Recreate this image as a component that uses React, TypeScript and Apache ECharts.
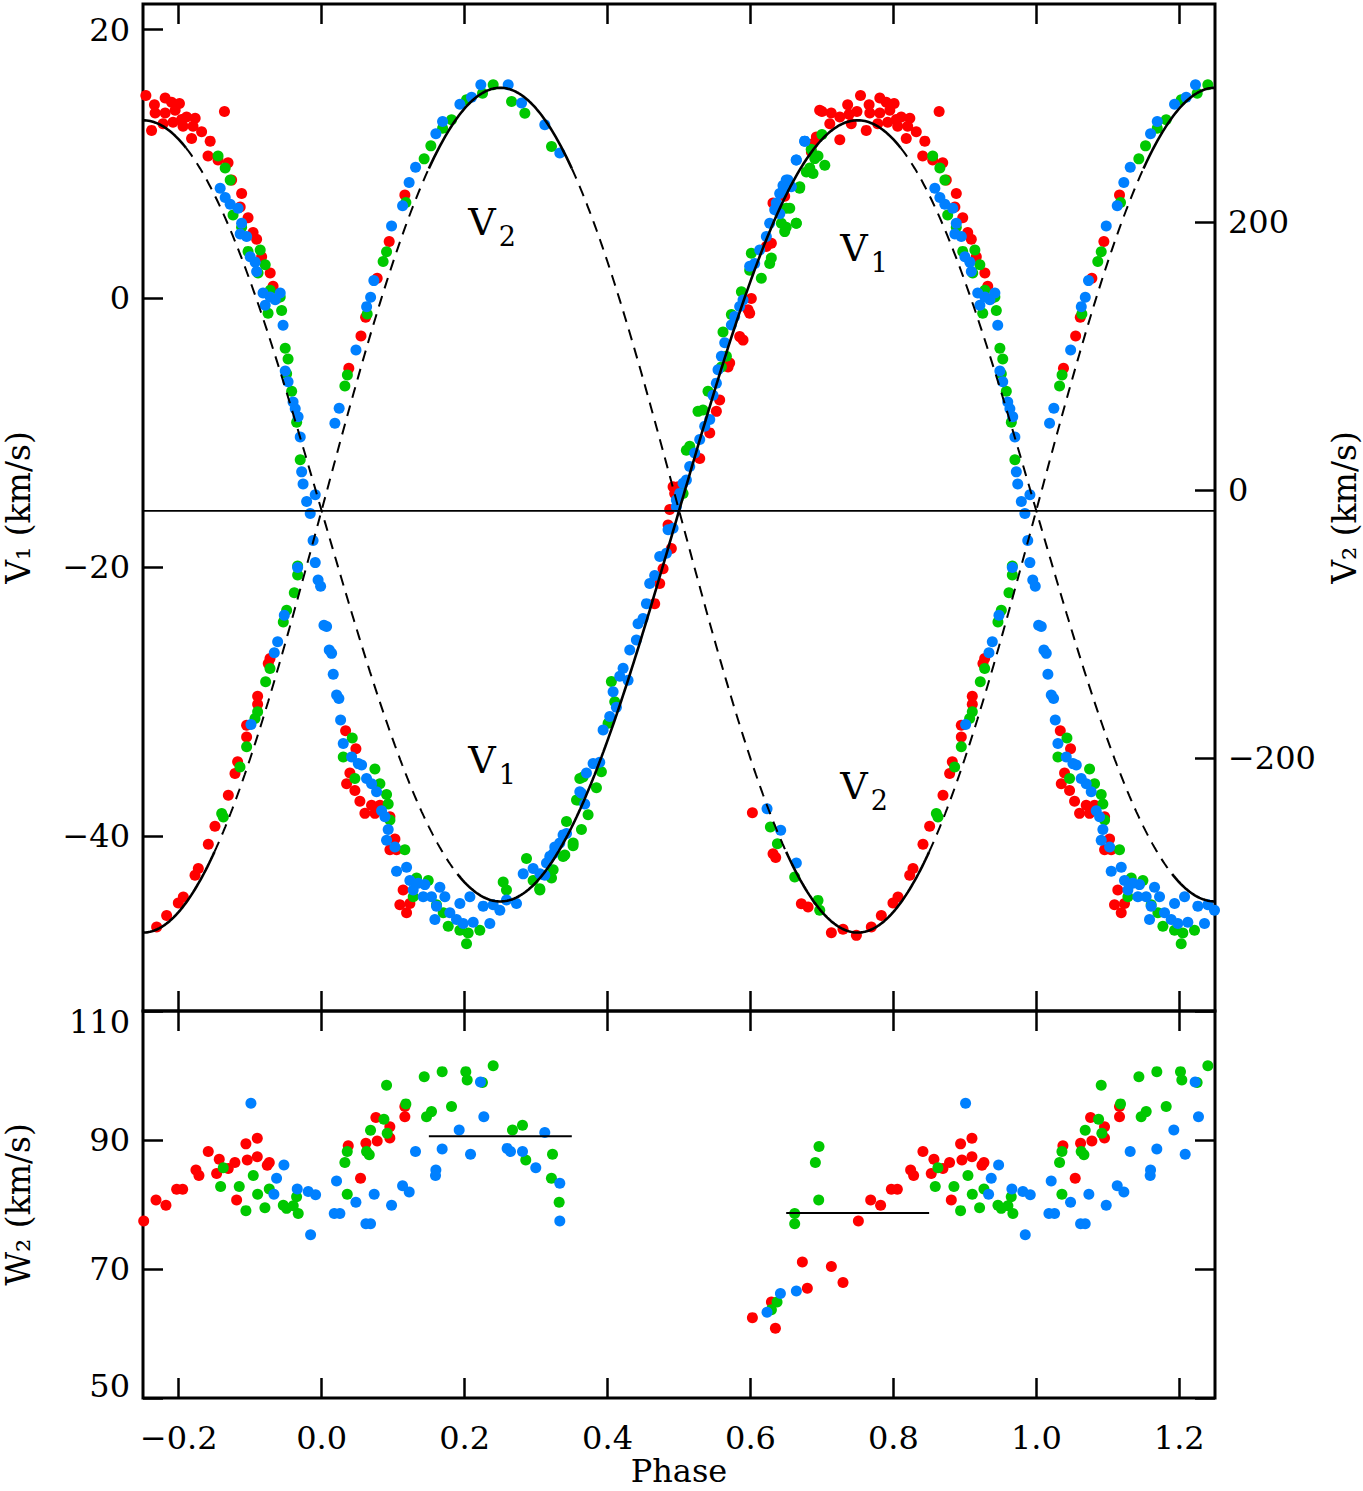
import React, { useEffect, useRef } from 'react';
import * as echarts from 'echarts';

// ---------- axis ticks ----------
const phaseTicks = [-0.2, 0, 0.2, 0.4, 0.6, 0.8, 1.0, 1.2];
const v1Ticks = [-40, -20, 0, 20];
const v2Ticks = [-200, 0, 200];
const w2Ticks = [50, 70, 90, 110];

// ---------- orbital fit parameters ----------
const V1_GAMMA = -15.8;
const V1_K = 29.05;
const V2_GAMMA = -15;
const V2_K = 315;
// phase ranges where the fit curves are drawn solid (others dashed)
const v1Solid = [[-0.25, -0.19], [0.19, 0.81], [1.19, 1.25]];
const v1Dashed = [[-0.19, 0.19], [0.81, 1.19]];
const v2Solid = [[-0.25, -0.15], [0.15, 0.35], [0.65, 0.85], [1.15, 1.25]];
const v2Dashed = [[-0.15, 0.15], [0.35, 0.65], [0.85, 1.15]];
// mean W2 levels
const w2Means = [
  { from: 0.15, to: 0.35, value: 90.6 },
  { from: 0.65, to: 0.85, value: 78.7 },
];

// ---------- V1 (km/s) vs phase ----------
const v1Red = [
  [0.700, 13.9], [0.713, 13.8], [0.725, 13.5], [0.736, 14.4], [0.738, 13.7], [0.749, 13.9], [0.754, 15.1],
  [0.766, 14.4], [0.767, 13.8], [0.781, 14.9], [0.790, 14.6], [0.801, 14.5], [0.795, 14.0], [0.781, 13.8],
  [0.778, 13.0], [0.792, 13.1], [0.804, 13.3], [0.811, 13.5], [0.823, 13.4], [0.820, 12.8], [0.806, 12.8],
  [0.832, 12.4], [0.844, 11.7], [0.818, 11.9], [0.762, 12.5], [0.741, 13.0], [0.725, 11.8], [0.864, 13.9],
  [0.711, 13.0], [0.687, 11.5],
  [0.841, 10.6], [0.855, 10.3], [0.869, 10.1], [0.874, 8.8], [0.888, 7.8], [0.886, 6.8], [0.897, 6.0],
  [0.904, 4.9], [0.909, 4.4], [0.916, 3.1], [0.928, 1.9], [0.932, 0.9], [0.937, 0.0],
  [0.0335, -32.15], [0.0479, -33.5], [0.0395, -35.3], [0.0349, -36.1], [0.0465, -36.6], [0.0535, -37.4],
  [0.0605, -38.3], [0.0698, -37.7], [0.0745, -38.3], [0.0815, -37.7], [0.0955, -38.55], [0.1025, -40.2],
  [0.0955, -41.0], [0.1048, -41.0], [0.114, -44.0], [0.1094, -45.1], [0.1188, -45.7], [0.1234, -45.0],
  [0.466, -22.7], [0.473, -21.2], [0.4777, -20.1], [0.4893, -18.6], [0.4847, -16.85], [0.494, -14.5],
  [0.4987, -14.0], [0.487, -15.7], [0.4917, -14.0], [0.529, -11.9], [0.543, -10.0], [0.5523, -8.4],
  [0.5569, -7.55], [0.5686, -5.1], [0.5709, -4.8], [0.5849, -2.84], [0.5896, -3.1], [0.5966, -0.85],
  [0.6012, 0.0], [0.5989, -1.1], [0.6222, 3.86], [0.6292, 4.1], [0.6315, 7.1], [0.6479, 7.6],
  [0.6852, 10.9], [0.6922, 12.0], [0.6968, 14.0],
];
const v1Green = [
  [0.700, 12.2], [0.685, 11.1], [0.690, 10.4], [0.704, 9.9], [0.683, 9.7], [0.669, 8.3], [0.655, 6.7],
  [0.650, 5.3], [0.664, 5.6], [0.855, 10.6], [0.865, 9.7], [0.872, 8.8], [0.876, 6.2], [0.888, 5.3],
  [0.897, 3.5], [0.914, 3.6], [0.921, 2.5], [0.911, 1.9], [0.928, 0.6], [0.942, 0.1], [0.925, -1.1],
  [0.944, -0.9], [0.949, -3.7], [0.953, -4.5], [0.951, -5.6], [0.958, -6.9], [0.965, -9.2], [0.970, -12.0],
  [0.0428, -32.7], [0.0302, -34.1], [0.0465, -35.7], [0.0745, -35.0], [0.0815, -36.1], [0.0908, -36.9],
  [0.0931, -37.6], [0.0955, -38.8], [0.1164, -41.0], [0.1328, -43.1], [0.1491, -43.3], [0.1281, -44.5],
  [0.1607, -45.1], [0.1701, -45.7], [0.1771, -46.7], [0.1934, -47.0], [0.2027, -48.0], [0.2050, -47.2],
  [0.2213, -47.0], [0.2540, -43.4], [0.2586, -44.0], [0.2866, -41.65], [0.2959, -43.3], [0.3053, -44.0],
  [0.3216, -43.1], [0.3239, -42.5], [0.3379, -41.5], [0.3426, -38.9], [0.3566, -37.3], [0.3612, -35.7],
  [0.3519, -40.5], [0.3052, -43.9],
  [0.3402, -41.4], [0.3518, -40.7], [0.3635, -39.5], [0.3728, -38.4], [0.3588, -37.3], [0.3845, -36.4],
  [0.3914, -35.2], [0.3658, -35.6], [0.4054, -28.5], [0.4101, -30.0], [0.4008, -31.6],
  [0.4987, -14.9], [0.5057, -14.5],
  [0.5103, -11.3], [0.515, -11.0], [0.5266, -8.4], [0.5336, -8.3], [0.5406, -6.9], [0.5593, -5.1],
  [0.5663, -4.3], [0.5616, -2.5], [0.5733, -1.2], [0.5873, 0.5], [0.5989, 2.1], [0.6012, 3.36],
  [0.6152, 1.5], [0.6269, 2.6], [0.6292, 3.0], [0.6432, 5.6], [0.6479, 4.97], [0.6502, 6.7],
  [0.6642, 5.6], [0.6688, 8.2], [0.6782, 9.4], [0.6875, 9.3], [0.6945, 10.6],
];
const v1Blue = [
  [0.676, 11.7], [0.664, 10.3], [0.650, 8.8], [0.646, 8.1], [0.641, 6.3], [0.858, 8.2], [0.865, 7.5],
  [0.872, 7.0], [0.883, 6.7], [0.888, 5.6], [0.895, 4.6], [0.886, 4.8], [0.900, 3.1], [0.907, 2.7],
  [0.909, 2.0], [0.918, 0.4], [0.928, 0.1], [0.935, -0.1], [0.942, 0.4], [0.921, -0.5], [0.946, -2.0],
  [0.949, -5.4], [0.953, -6.2], [0.960, -7.7], [0.963, -8.2], [0.967, -8.8], [0.970, -10.3],
  [0.972, -12.9], [0.974, -13.8], [0.979, -15.1], [0.991, -14.6], [0.984, -16.0], [0.988, -18.0],
  [0.991, -19.65], [0.995, -20.94], [0.9985, -21.4], [0.0032, -24.3], [0.0069, -24.4], [0.0106, -26.15],
  [0.0139, -26.4], [0.0162, -27.96], [0.0209, -29.5], [0.0241, -29.75], [0.0265, -31.36],
  [0.0302, -33.1], [0.0419, -34.1], [0.0512, -34.6], [0.0559, -34.7], [0.0628, -35.7], [0.0698, -36.1],
  [0.0768, -36.7], [0.0838, -38.1], [0.0885, -38.55], [0.0931, -39.5], [0.0908, -40.3], [0.1025, -40.8],
  [0.1048, -42.6], [0.1188, -42.3], [0.1234, -43.3], [0.1351, -43.5], [0.1444, -43.6], [0.1281, -44.0],
  [0.1421, -44.5], [0.1537, -44.5], [0.1654, -43.8], [0.1724, -44.5], [0.1607, -45.2], [0.1584, -46.2],
  [0.1794, -45.7], [0.1887, -46.2], [0.198, -46.5], [0.212, -46.4], [0.1934, -45.0], [0.2074, -44.5],
  [0.226, -45.2], [0.24, -45.1], [0.2493, -45.5], [0.2353, -46.5], [0.2586, -44.75], [0.2726, -45.0],
  [0.282, -42.8], [0.2959, -42.4], [0.3053, -42.8], [0.3146, -42.0], [0.3239, -41.3], [0.3332, -40.5],
  [0.3426, -39.8], [0.3612, -36.7],
  [0.3122, -42.9], [0.3192, -41.5], [0.3262, -40.8], [0.3378, -39.9], [0.3635, -36.8], [0.3681, -37.6],
  [0.3798, -34.6], [0.3891, -34.5], [0.3705, -35.3], [0.3938, -32.1], [0.4031, -31.1], [0.4124, -30.4],
  [0.4078, -29.25], [0.4171, -28.1], [0.4287, -28.4], [0.4218, -27.5], [0.4311, -26.15], [0.4404, -25.4],
  [0.4427, -24.2], [0.4497, -23.8], [0.4544, -22.7], [0.459, -21.2], [0.466, -20.6], [0.473, -19.2],
  [0.4824, -18.96], [0.4847, -17.2], [0.4917, -17.1], [0.4963, -15.0], [0.5057, -13.75],
  [0.4963, -15.5], [0.501, -14.5], [0.5103, -13.5], [0.515, -12.5], [0.522, -11.5], [0.529, -10.5],
  [0.536, -9.5], [0.543, -9.0], [0.5476, -7.2], [0.5523, -6.3], [0.5546, -5.3], [0.5593, -4.3],
  [0.564, -3.3], [0.5733, -1.97], [0.5779, -1.35], [0.5849, -0.6], [0.5896, -0.11], [0.5989, 2.4],
  [0.6059, 2.6], [0.6129, 3.6], [0.6222, 4.6], [0.6269, 5.6], [0.6339, 6.6], [0.6362, 7.1],
  [0.6409, 7.8], [0.6455, 8.4], [0.6525, 8.8], [0.6572, 8.3], [0.6642, 10.3], [0.6758, 11.7],
];

// ---------- V2 (km/s) vs phase ----------
const v2Red = [
  [0.038, 90.8], [0.055, 114.9], [0.0615, 128.9], [0.0777, 158], [0.0945, 185.3], [0.1164, 220.1],
  [0.6027, -240.6], [0.6316, -271.2], [0.6353, -274.1], [0.6712, -308.5], [0.6806, -311.0],
  [0.7132, -330.1], [0.7295, -327.6], [0.7482, -332.1], [0.7691, -325.9], [0.7831, -317.2],
  [0.7994, -308.0], [0.8064, -303.5], [0.8228, -287.3], [0.8274, -282.3], [0.8414, -264.2],
  [0.8507, -250.8], [0.8694, -227.6], [0.8787, -211.4], [0.8824, -202.7], [0.895, -184.1],
  [0.895, -175.4], [0.9104, -159.7], [0.9104, -153.7], [0.9253, -129.4], [0.9277, -125.6],
];
const v2Green = [
  [0.0325, 77.6], [0.036, 85.8], [0.0637, 131.3], [0.086, 170.4], [0.0908, 177.8], [0.1178, 214.4],
  [0.1434, 247], [0.1528, 256.7], [0.1692, 269.9], [0.1817, 276.1], [0.2027, 291], [0.2251, 296],
  [0.24, 302.2], [0.2657, 289.8], [0.2843, 281.1], [0.3216, 256.2],
  [0.6279, -251.3], [0.6377, -263.7], [0.6619, -288.6], [0.6945, -306.0], [0.6969, -313.4],
  [0.8601, -241.3], [0.8624, -243.8], [0.8857, -206.5], [0.895, -191.5], [0.9104, -165.4],
  [0.9067, -170.4], [0.9216, -143.0], [0.9277, -133.1], [0.9463, -98.3], [0.951, -89.6],
  [0.9617, -76.6], [0.9664, -63.4], [0.9664, -56.7],
];
const v2Blue = [
  [0.0185, 49.8], [0.0245, 61], [0.048, 104.5], [0.0629, 136.8], [0.0685, 143.8], [0.073, 156.2],
  [0.0978, 197], [0.1132, 212], [0.1224, 229.3], [0.1314, 240.8], [0.1598, 265.7], [0.1692, 274.9],
  [0.1934, 287.8], [0.2097, 293], [0.2227, 302.2], [0.261, 302.2], [0.2797, 288.6], [0.3122, 272.4],
  [0.3332, 251.3],
  [0.6232, -237.6], [0.6423, -253.7], [0.6642, -278.1],
  [0.9011, -174.9], [0.9337, -121.4], [0.9384, -113.2], [0.9477, -93.3], [0.9664, -57.7],
];

// ---------- W2 (km/s) vs phase ----------
const w2Red = [
  [0.751, 77.45], [0.7682, 80.7], [0.7821, 79.9], [0.7971, 82.35], [0.8055, 82.35], [0.8241, 85.35],
  [0.8283, 84.5], [0.8413, 88.2], [0.8567, 87.0], [0.853, 84.8], [0.8693, 85.6], [0.8786, 86.5],
  [0.894, 89.4], [0.8959, 86.9], [0.9099, 90.26], [0.9099, 87.4], [0.9239, 86.1], [0.9267, 86.5],
  [0.881, 80.7], [0.0372, 89.1], [0.0619, 89.5], [0.0777, 89.85], [0.0759, 93.5], [0.0954, 92.07],
  [0.0954, 90.3], [0.1164, 93.6], [0.1164, 95.2], [0.0544, 84.06], [0.6027, 62.46], [0.6349, 60.8],
  [0.6293, 64.9], [0.6726, 71.1], [0.6796, 67.0], [0.7132, 70.4], [0.7295, 67.9],
];
const w2Green = [
  [0.8623, 85.7], [0.8586, 82.8], [0.8847, 82.8], [0.9043, 84.5], [0.9104, 81.6], [0.894, 79.05],
  [0.9206, 79.5], [0.9267, 82.4], [0.9463, 79.9], [0.9509, 79.4], [0.9602, 79.8], [0.9672, 78.6],
  [0.9649, 81.2], [0.0358, 88.2], [0.0325, 86.5], [0.0628, 88.2], [0.0666, 87.7], [0.0684, 91.5],
  [0.0871, 93.2], [0.0917, 91.04], [0.0908, 98.5], [0.1178, 95.6], [0.0358, 81.6], [0.1435, 99.8],
  [0.1467, 93.6], [0.1537, 94.4], [0.1686, 100.6], [0.1817, 95.2], [0.2017, 100.6], [0.2036, 99.3],
  [0.225, 98.9], [0.24, 101.5], [0.267, 91.55], [0.281, 92.3], [0.2856, 86.9], [0.323, 87.8],
  [0.3215, 84.06], [0.3323, 80.34], [0.6293, 63.7], [0.6372, 64.9], [0.6619, 78.6], [0.6619, 77.0],
  [0.6908, 86.5], [0.6959, 89.0], [0.6955, 80.7],
];
const w2Blue = [
  [0.901, 95.7], [0.9472, 86.13], [0.9369, 84.06], [0.9332, 81.6], [0.9658, 82.4], [0.9812, 82.0],
  [0.9915, 81.5], [0.9845, 75.3], [0.0208, 83.65], [0.0176, 78.6], [0.0255, 78.6], [0.0479, 80.34],
  [0.0619, 77.0], [0.0684, 77.0], [0.0735, 81.6], [0.0978, 79.9], [0.1132, 82.9], [0.1225, 81.95],
  [0.1313, 88.2], [0.1598, 85.35], [0.1593, 84.5], [0.1686, 88.6], [0.1924, 91.55], [0.2083, 87.8],
  [0.2269, 93.6], [0.2222, 99.0], [0.2595, 88.7], [0.2642, 88.2], [0.281, 88.2], [0.2996, 85.7],
  [0.3122, 91.15], [0.3332, 83.3], [0.3332, 77.45], [0.6232, 63.3], [0.6419, 66.2], [0.6642, 66.6],
];

// ---------- styling ----------
const FONT = 'DejaVu Serif';
const RED = '#ff0000';
const GREEN = '#00c800';
const BLUE = '#0080ff';

// phase-fold: repeat each observation one cycle earlier/later inside the plotted window
function wrap(points: number[][]) {
  const out: number[][] = [];
  for (const [p, v] of points) {
    out.push([p, v]);
    if (p - 1 >= -0.26) out.push([p - 1, v]);
    if (p + 1 <= 1.26) out.push([p + 1, v]);
  }
  return out;
}

function sample(fn: (p: number) => number, a: number, b: number) {
  const n = Math.max(2, Math.ceil((b - a) / 0.0025));
  const pts: number[][] = [];
  for (let i = 0; i <= n; i++) {
    const p = a + ((b - a) * i) / n;
    pts.push([p, fn(p)]);
  }
  return pts;
}

const v1Fit = (p: number) => V1_GAMMA - V1_K * Math.sin(2 * Math.PI * p);
const v2Fit = (p: number) => V2_GAMMA + V2_K * Math.sin(2 * Math.PI * p);

const fmtNum = (v: number, d: number) => (v < 0 ? '\u2212' : '') + Math.abs(v).toFixed(d);

function buildOption() {
  const tick = (values: number[]) => ({
    show: true,
    inside: true,
    length: 20,
    customValues: values,
    lineStyle: { color: '#000', width: 2.5 },
  });
  const noLine = { show: false, onZero: false };
  const labelBase = { fontFamily: FONT, fontSize: 32, color: '#000' };
  const nameStyle = { fontFamily: FONT, fontSize: 33, color: '#000' };

  const xBase = {
    type: 'value',
    min: -0.25,
    max: 1.25,
    axisLine: noLine,
    splitLine: { show: false },
  };

  const scatter = (data: number[][], color: string, xi: number, yi: number) => ({
    type: 'scatter',
    data: wrap(data),
    xAxisIndex: xi,
    yAxisIndex: yi,
    symbol: 'circle',
    symbolSize: 11,
    itemStyle: { color, opacity: 1 },
    z: 2,
    silent: true,
    clip: true,
  });

  const line = (data: number[][], xi: number, yi: number, dashed: boolean, width: number) => ({
    type: 'line',
    data,
    xAxisIndex: xi,
    yAxisIndex: yi,
    showSymbol: false,
    symbol: 'none',
    lineStyle: { color: '#000', width, type: dashed ? [11, 8] : 'solid' },
    z: 5,
    silent: true,
    clip: true,
  });

  const series: any[] = [
    scatter(v1Red, RED, 0, 0),
    scatter(v2Red, RED, 0, 1),
    scatter(v1Green, GREEN, 0, 0),
    scatter(v2Green, GREEN, 0, 1),
    scatter(v1Blue, BLUE, 0, 0),
    scatter(v2Blue, BLUE, 0, 1),
    scatter(w2Red, RED, 2, 2),
    scatter(w2Green, GREEN, 2, 2),
    scatter(w2Blue, BLUE, 2, 2),
  ];
  for (const [a, b] of v1Solid) series.push(line(sample(v1Fit, a, b), 0, 0, false, 2.6));
  for (const [a, b] of v1Dashed) series.push(line(sample(v1Fit, a, b), 0, 0, true, 2));
  for (const [a, b] of v2Solid) series.push(line(sample(v2Fit, a, b), 0, 1, false, 2.6));
  for (const [a, b] of v2Dashed) series.push(line(sample(v2Fit, a, b), 0, 1, true, 2));
  series.push(line([[-0.25, V1_GAMMA], [1.25, V1_GAMMA]], 0, 0, false, 1.6));
  for (const m of w2Means) series.push(line([[m.from, m.value], [m.to, m.value]], 2, 2, false, 2));

  const plotLabel = (sub: string, x: number, y: number) => ({
    type: 'text',
    x,
    y,
    style: {
      text: '{v|V}{s|' + sub + '}',
      align: 'center',
      verticalAlign: 'middle',
      rich: {
        v: { fontFamily: FONT, fontSize: 38, fill: '#000' },
        s: { fontFamily: FONT, fontSize: 27, fill: '#000', padding: [28, 0, 0, 3] },
      },
    },
    z: 10,
  });

  const gridBase = {
    left: 143,
    width: 1072,
    show: true,
    borderColor: '#000',
    borderWidth: 3,
    backgroundColor: 'transparent',
    containLabel: false,
    outerBoundsMode: 'none',
  };

  return {
    animation: false,
    backgroundColor: '#fff',
    grid: [
      { ...gridBase, top: 4, height: 1007 },
      { ...gridBase, top: 1011, height: 387 },
    ],
    xAxis: [
      { ...xBase, gridIndex: 0, position: 'bottom', axisTick: tick(phaseTicks), axisLabel: { show: false } },
      { ...xBase, gridIndex: 0, position: 'top', axisTick: tick(phaseTicks), axisLabel: { show: false } },
      {
        ...xBase,
        gridIndex: 1,
        position: 'bottom',
        axisTick: tick(phaseTicks),
        axisLabel: { ...labelBase, show: true, customValues: phaseTicks, margin: 24, formatter: (v: number) => fmtNum(v, 1) },
        name: 'Phase',
        nameLocation: 'middle',
        nameGap: 55,
        nameTextStyle: { ...nameStyle, fontSize: 32 },
      },
      { ...xBase, gridIndex: 1, position: 'top', axisTick: tick(phaseTicks), axisLabel: { show: false } },
    ],
    yAxis: [
      {
        type: 'value',
        gridIndex: 0,
        position: 'left',
        min: -53,
        max: 21.9,
        axisLine: noLine,
        splitLine: { show: false },
        axisTick: tick(v1Ticks),
        axisLabel: { ...labelBase, show: true, customValues: v1Ticks, margin: 13, formatter: (v: number) => fmtNum(v, 0) },
        name: 'V\u2081 (km/s)',
        nameLocation: 'middle',
        nameRotate: 90,
        nameGap: 108,
        nameTextStyle: nameStyle,
      },
      {
        type: 'value',
        gridIndex: 0,
        position: 'right',
        min: -388.5,
        max: 362.5,
        axisLine: noLine,
        splitLine: { show: false },
        axisTick: tick(v2Ticks),
        axisLabel: { ...labelBase, show: true, customValues: v2Ticks, margin: 13, formatter: (v: number) => fmtNum(v, 0) },
        name: 'V\u2082 (km/s)',
        nameLocation: 'middle',
        nameRotate: 90,
        nameGap: 113,
        nameTextStyle: nameStyle,
      },
      {
        type: 'value',
        gridIndex: 1,
        position: 'left',
        min: 50,
        max: 110,
        axisLine: noLine,
        splitLine: { show: false },
        axisTick: tick(w2Ticks),
        axisLabel: {
          ...labelBase,
          show: true,
          customValues: w2Ticks,
          margin: 13,
          formatter: (v: number) => (v === 110 ? '{t|110}' : v === 50 ? '{b|50}' : String(v)),
          rich: {
            t: { fontFamily: FONT, fontSize: 32, color: '#000', padding: [22, 0, 0, 0] },
            b: { fontFamily: FONT, fontSize: 32, color: '#000', padding: [0, 0, 24, 0] },
          },
        },
        name: 'W\u2082 (km/s)',
        nameLocation: 'middle',
        nameRotate: 90,
        nameGap: 108,
        nameTextStyle: nameStyle,
      },
      {
        type: 'value',
        gridIndex: 1,
        position: 'right',
        min: 50,
        max: 110,
        axisLine: noLine,
        splitLine: { show: false },
        axisTick: tick(w2Ticks),
        axisLabel: { show: false },
      },
    ],
    graphic: [
      plotLabel('2', 492, 222),
      plotLabel('1', 864, 248),
      plotLabel('1', 492, 760),
      plotLabel('2', 864, 786),
    ],
    series,
  };
}

export default function App() {
  const ref = useRef<HTMLDivElement>(null);
  useEffect(() => {
    if (!ref.current) return;
    const chart = echarts.init(ref.current, null, { renderer: 'svg' });
    chart.setOption(buildOption() as any);
    return () => chart.dispose();
  }, []);
  return (
    <div
      ref={ref}
      style={{ position: 'fixed', left: 0, top: 0, width: 1363, height: 1491, background: '#fff' }}
    />
  );
}
